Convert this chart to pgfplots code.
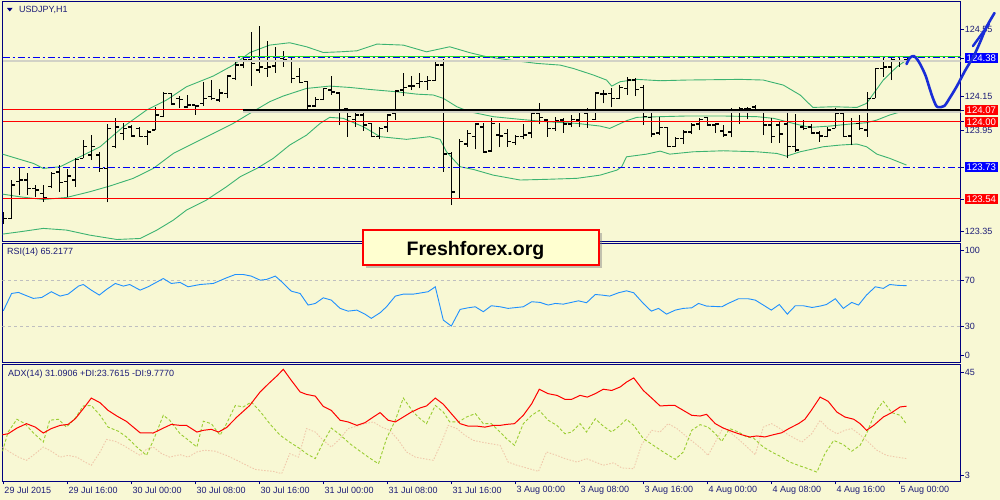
\documentclass[border=0pt]{standalone}
\usepackage{pgfplots}
\pgfplotsset{compat=1.18}
\usepackage{pgfplotstable}
\usepackage{fontspec}
\setmainfont{Liberation Sans}
\usetikzlibrary{shadows}

\definecolor{chartbg}{RGB}{248,248,212}
\definecolor{frame}{RGB}{0,0,128}
\definecolor{labtext}{RGB}{28,28,120}
\definecolor{band}{RGB}{60,179,113}
\definecolor{lvlgreen}{RGB}{40,220,40}
\definecolor{lvlblue}{RGB}{0,0,245}
\definecolor{shadowgray}{RGB}{210,210,198}
\definecolor{rsiblue}{RGB}{30,144,255}
\definecolor{diplus}{RGB}{154,205,50}
\definecolor{diminus}{RGB}{240,200,170}
\definecolor{boxfill}{RGB}{255,255,208}
\definecolor{penblue}{RGB}{25,45,215}

\newcommand{\redlab}[1]{{\fboxsep=1.8pt\colorbox{red}{\textcolor{white}{\fontsize{9.6}{10}\selectfont#1}}}}
\newcommand{\bluelab}[1]{{\fboxsep=1.8pt\colorbox{blue}{\textcolor{white}{\fontsize{9.6}{10}\selectfont#1}}}}

% USDJPY H1 bars: index, open, high, low, close
\pgfplotstableread{
i O H L C
0 123.405 123.464 123.391 123.424
1 123.424 123.653 123.420 123.623
2 123.643 123.722 123.563 123.653
3 123.653 123.692 123.563 123.603
4 123.603 123.623 123.553 123.593
5 123.573 123.623 123.524 123.549
6 123.613 123.702 123.603 123.692
7 123.702 123.742 123.583 123.637
8 123.643 123.716 123.553 123.676
9 123.653 123.782 123.613 123.776
10 123.782 123.891 123.782 123.851
11 123.801 123.920 123.772 123.851
12 123.801 123.821 123.702 123.722
13 123.722 123.986 123.520 123.960
14 123.851 124.020 123.841 123.970
15 123.930 123.990 123.891 123.960
16 123.970 123.980 123.911 123.915
17 123.960 123.970 123.911 123.911
18 123.911 123.950 123.861 123.940
19 123.950 124.089 123.950 124.040
20 124.030 124.178 124.026 124.168
21 124.168 124.172 124.099 124.105
22 124.139 124.153 124.079 124.133
23 124.089 124.159 124.079 124.099
24 124.099 124.099 124.040 124.093
25 124.109 124.238 124.093 124.139
26 124.149 124.248 124.129 124.139
27 124.129 124.192 124.119 124.172
28 124.168 124.278 124.139 124.272
29 124.258 124.357 124.248 124.337
30 124.337 124.377 124.317 124.367
31 124.371 124.536 124.212 124.347
32 124.307 124.569 124.292 124.327
33 124.317 124.480 124.268 124.327
34 124.333 124.446 124.292 124.387
35 124.377 124.422 124.327 124.367
36 124.383 124.383 124.228 124.258
37 124.268 124.317 124.228 124.232
38 124.238 124.244 124.073 124.093
39 124.093 124.145 124.089 124.133
40 124.133 124.198 124.129 124.198
41 124.188 124.272 124.159 124.178
42 124.172 124.178 123.980 124.069
43 124.079 124.079 123.911 124.030
44 124.014 124.053 123.970 124.040
45 124.040 124.053 123.946 123.980
46 123.990 123.994 123.907 123.911
47 123.911 123.970 123.895 123.960
48 123.970 124.045 123.936 124.040
49 124.049 124.188 124.010 124.184
50 124.188 124.292 124.153 124.204
51 124.212 124.272 124.188 124.212
52 124.228 124.288 124.198 124.238
53 124.238 124.272 124.188 124.244
54 124.244 124.363 124.244 124.337
55 124.337 124.371 123.702 123.807
56 123.811 123.821 123.504 123.583
57 123.543 123.895 123.543 123.881
58 123.867 123.950 123.851 123.930
59 123.911 123.994 123.835 123.986
60 123.970 123.994 123.815 123.821
61 123.827 124.020 123.821 123.990
62 123.920 123.994 123.847 123.915
63 123.930 123.954 123.851 123.881
64 123.875 123.920 123.861 123.911
65 123.911 123.986 123.895 123.920
66 123.934 124.059 123.901 124.049
67 124.049 124.109 123.986 124.026
68 124.010 124.014 123.911 123.960
69 123.960 124.026 123.946 124.006
70 124.010 124.020 123.934 123.986
71 123.986 124.040 123.966 124.014
72 124.010 124.069 123.970 124.059
73 124.053 124.079 123.964 124.069
74 124.014 124.178 124.010 124.172
75 124.165 124.188 124.109 124.165
76 124.168 124.198 124.085 124.139
77 124.139 124.218 124.133 124.204
78 124.198 124.264 124.159 124.248
79 124.248 124.258 124.153 124.192
80 124.204 124.218 123.980 124.030
81 124.026 124.049 123.907 123.926
82 123.934 124.030 123.920 123.966
83 123.966 123.970 123.847 123.851
84 123.851 123.911 123.851 123.901
85 123.901 123.950 123.867 123.940
86 123.940 123.994 123.926 123.980
87 123.986 124.020 123.950 124.014
88 124.026 124.030 123.974 123.980
89 123.980 123.994 123.934 123.986
90 123.946 123.980 123.911 123.920
91 123.940 124.079 123.907 124.059
92 124.059 124.085 123.986 124.079
93 124.079 124.085 124.014 124.079
94 124.089 124.099 124.053 124.059
95 124.059 124.059 123.920 123.980
96 123.980 124.020 123.875 123.911
97 123.980 124.006 123.875 123.926
98 123.986 124.053 123.782 123.851
99 123.851 124.045 123.821 123.831
100 123.970 124.010 123.950 123.960
101 123.970 123.986 123.926 123.934
102 123.934 123.946 123.881 123.915
103 123.911 123.966 123.907 123.950
104 123.960 124.079 123.960 124.049
105 124.049 124.059 123.907 123.911
106 123.915 124.020 123.861 124.000
107 123.990 124.040 123.950 123.960
108 123.950 124.178 123.911 124.139
109 124.139 124.317 124.139 124.317
110 124.317 124.391 124.268 124.327
111 124.327 124.377 124.248 124.371
112 124.363 124.387 124.327 124.357
113 124.367 124.387 124.343 124.383
}\ohlc

\pgfplotsset{
  mt4/.style={
    scale only axis, width=958.2pt,
    xmin=-0.1, xmax=119.675,
    axis line style={frame, line width=0.8pt},
    axis background/.style={fill=chartbg},
    tick style={frame, line width=0.6pt},
    major tick length=3pt,
    tick align=outside,
    ytick pos=right, yticklabel pos=right,
    xtick=\empty,
    ticklabel style={font=\fontsize{9}{10}\selectfont, text=labtext},
    yticklabel style={anchor=west, inner sep=1pt},
    /pgf/number format/assume math mode=true,
  },
}

\begin{document}
\begin{tikzpicture}
\useasboundingbox (0,0) rectangle (1000pt,-500pt);
\fill[chartbg] (0,0) rectangle (1000pt,-500pt);

% ---- price panel ----
\begin{axis}[mt4, at={(2.5pt,-1.7pt)}, anchor=north west, height=239.3pt,
  ymin=123.290, ymax=124.7143,
  ytick={123.35,123.95,124.15,124.55},
  yticklabel style={/pgf/number format/fixed, /pgf/number format/fixed zerofill, /pgf/number format/precision=2},
  extra y ticks={124.38,124.07,124.00,123.73,123.54},
  extra y tick labels={\bluelab{124.38},\redlab{124.07},\redlab{124.00},\bluelab{123.73},\redlab{123.54}},
]
% Bollinger bands (20)
\addplot[band, line width=0.9pt] coordinates {(-0.1,123.807) (3.75,123.752) (5,123.722) (7.1,123.732) (9.2,123.782) (12.1,123.851) (15,123.970) (17.9,124.069) (20.4,124.129) (22.9,124.208) (26.25,124.272) (28.75,124.337) (30.8,124.411) (33.3,124.456) (35.8,124.470) (37.9,124.446) (40,124.412) (42.1,124.416) (44.2,124.422) (46.7,124.462) (50,124.456) (52.9,124.416) (55.8,124.446) (58.3,124.411) (60.4,124.387) (63.3,124.367) (66.7,124.347) (69.6,124.337) (71.25,124.317) (73.75,124.278) (75.4,124.248) (76.05,124.212) (77.1,124.238) (79.2,124.252) (82.1,124.244) (85.4,124.248) (92.1,124.252) (95,124.248) (97.5,124.218) (99.6,124.159) (101.2,124.085) (103.75,124.089) (106.7,124.085) (107.9,124.109) (110,124.248) (111.7,124.327) (112.9,124.367)};
\addplot[band, line width=0.9pt] coordinates {(-0.1,123.569) (2.1,123.553) (5,123.537) (7.9,123.549) (10.8,123.583) (13.3,123.617) (16.25,123.663) (18.75,123.722) (21.25,123.811) (23.75,123.871) (26.25,123.930) (28.75,123.990) (30.8,124.049) (33.3,124.119) (35,124.153) (37.9,124.198) (40.8,124.212) (43.3,124.204) (45.8,124.192) (49.2,124.178) (51.7,124.164) (53.75,124.159) (55,124.139) (56.7,124.089) (58.3,124.059) (61.25,124.030) (64.6,124.014) (67.9,124.000) (71.7,123.990) (74.6,123.974) (75.8,123.960) (77.9,124.006) (79.2,124.026) (82.1,124.030) (85.4,124.034) (90,124.034) (94.2,124.030) (96.3,124.020) (98.75,123.990) (100.8,123.966) (103.3,123.974) (105.8,123.986) (107.9,123.994) (109.2,124.010) (110.8,124.040) (112.9,124.069)};
\addplot[band, line width=0.9pt] coordinates {(-0.1,123.331) (2.1,123.345) (5,123.365) (7.9,123.355) (10.8,123.325) (14.2,123.299) (17.1,123.305) (19.2,123.355) (21.25,123.414) (22.9,123.474) (25.4,123.534) (27.9,123.613) (29.6,123.672) (31.7,123.722) (33.75,123.782) (35.8,123.861) (37.9,123.920) (39.6,123.990) (40.8,124.026) (42.5,124.020) (45,123.970) (47.1,123.911) (50.4,123.895) (53.3,123.911) (54.6,123.895) (55.4,123.821) (57.1,123.732) (58.75,123.716) (61.25,123.682) (64.6,123.653) (67.9,123.657) (71.7,123.663) (74.6,123.682) (76.7,123.712) (77.3,123.732) (77.9,123.791) (80.4,123.807) (82.1,123.825) (83.3,123.807) (86.25,123.821) (90,123.827) (94.2,123.821) (96.7,123.811) (97.9,123.795) (99.6,123.821) (102.5,123.851) (104.6,123.861) (106.7,123.867) (107.9,123.851) (109.2,123.807) (110.8,123.782) (112.9,123.742)};
% OHLC bars
\addplot[draw=none, mark=none, error bars/.cd, error mark=none, y dir=plus, y explicit, error bar style={draw=black, solid, line width=1.2pt}]
  table[x=i, y=L, y error expr=\thisrow{H}-\thisrow{L}] {\ohlc};
\addplot[draw=none, mark=none, error bars/.cd, error mark=none, x dir=minus, x fixed=0.4, error bar style={draw=black, solid, line width=1.5pt}]
  table[x=i, y=O] {\ohlc};
\addplot[draw=none, mark=none, error bars/.cd, error mark=none, x dir=plus, x fixed=0.4, error bar style={draw=black, solid, line width=1.5pt}]
  table[x=i, y=C] {\ohlc};
% levels
\addplot[shadowgray, line width=2pt] coordinates {(-0.1,124.361) (119.675,124.361)};
\addplot[lvlblue, line width=1pt, dash pattern=on 7pt off 3pt on 2pt off 3pt] coordinates {(-0.1,124.38) (119.675,124.38)};
\addplot[lvlgreen, line width=1.3pt] coordinates {(29.3,124.387) (119.675,124.387)};
\addplot[red, line width=1pt] coordinates {(-0.1,124.07) (119.675,124.07)};
\addplot[red, line width=1pt] coordinates {(-0.1,124.00) (119.675,124.00)};
\addplot[lvlblue, line width=1pt, dash pattern=on 7pt off 3pt on 2pt off 3pt] coordinates {(-0.1,123.73) (119.675,123.73)};
\addplot[red, line width=1pt] coordinates {(-0.1,123.54) (119.675,123.54)};
\addplot[shadowgray, line width=2.6pt] coordinates {(29.96,124.057) (119.675,124.057)};
\addplot[black, line width=2.6pt] coordinates {(29.96,124.069) (119.675,124.069)};
\end{axis}

% ---- RSI panel ----
\begin{axis}[mt4, at={(2.5pt,-243.5pt)}, anchor=north west, height=119.2pt,
  ymin=-1.9, ymax=101.9,
  ytick={4.5,30,70,96.2}, yticklabels={0,30,70,100},
]
\addplot[black!25, line width=0.7pt, dash pattern=on 3pt off 3pt] coordinates {(-0.1,70) (119.675,70)};
\addplot[black!25, line width=0.7pt, dash pattern=on 3pt off 3pt] coordinates {(-0.1,30) (119.675,30)};
\addplot[rsiblue, line width=0.9pt] coordinates {(0,43.3) (1.04,58.4) (1.9,59.3) (2.7,57.0) (3.75,54.1) (4.8,54.9) (6.0,59.9) (7.1,56.1) (8.1,57.8) (9.4,64.8) (10,66.2) (11.0,61.3) (12,57.0) (12.9,61.9) (14.0,67.1) (15,64.8) (15.8,66.2) (17.1,61.3) (18.1,64.2) (20,71.4) (21,67.1) (22.1,68.0) (23.1,64.2) (24.6,66.2) (26.25,67.1) (27.9,72.0) (29,74.9) (30,74.9) (31,73.5) (32.1,70.0) (32.9,70.6) (34.0,73.5) (34.8,68.6) (36.0,60.4) (37.1,58.4) (38.1,48.3) (39.0,49.7) (40,54.6) (41.0,52.6) (42.1,45.4) (43.1,43.0) (44.2,43.9) (45.2,40.4) (46.0,36.7) (47.1,41.6) (47.9,46.8) (49.0,56.1) (50,57.8) (51.25,57.8) (53.1,59.9) (54.0,64.2) (55,35.2) (56.0,30.0) (57.1,44.5) (58.1,45.9) (59.0,46.8) (60,42.5) (61.0,47.7) (62.1,46.8) (63.1,45.4) (65.0,46.8) (66.05,51.2) (67.1,50.6) (68.1,48.3) (69.0,49.7) (70,49.1) (70.8,50.3) (71.9,52.0) (72.9,50.3) (74.0,57.5) (74.8,57.0) (75.8,56.1) (76.9,59.0) (77.9,60.7) (78.8,59.0) (80.0,49.7) (81.0,43.0) (81.9,45.4) (82.9,40.4) (84.0,43.9) (85.0,45.4) (86.05,45.9) (86.9,49.7) (87.9,47.4) (89.8,46.8) (90.8,50.3) (91.9,53.8) (93.1,53.8) (94.0,52.6) (95.0,48.3) (96.0,43.9) (97.0,48.8) (98.0,40.4) (99.0,47.7) (100,47.7) (101.1,46.2) (102.1,47.4) (102.9,48.8) (104,53.8) (105.0,45.4) (106.05,50.6) (106.9,48.3) (107.9,57.0) (109,64.2) (110,62.8) (110.8,66.2) (111.9,65.4) (112.9,65.2)};
\end{axis}

% ---- ADX panel ----
\begin{axis}[mt4, at={(2.5pt,-364.7pt)}, anchor=north west, height=116.6pt,
  ymin=0.57, ymax=47.97,
  ytick={3,45},
  xtick={0,8,...,112}, xtick pos=left, xticklabel pos=left,
  xticklabels={29 Jul 2015,29 Jul 16:00,30 Jul 00:00,30 Jul 08:00,30 Jul 16:00,31 Jul 00:00,31 Jul 08:00,31 Jul 16:00,3 Aug 00:00,3 Aug 08:00,3 Aug 16:00,4 Aug 00:00,4 Aug 08:00,4 Aug 16:00,5 Aug 00:00},
  xticklabel style={anchor=north west, inner sep=0pt, xshift=1pt, yshift=-2pt},
]
\addplot[diminus, line width=0.9pt, dash pattern=on 1.5pt off 1.5pt] coordinates {(-0.1,14.5) (0.8,12.5) (1.9,10.4) (2.9,9.1) (4.0,11.8) (5,14.5) (6.0,12.8) (7.1,10.4) (8.1,11.1) (9.2,10.4) (10.2,8.4) (11.0,7.1) (12.1,12.5) (12.9,17.6) (14.0,16.8) (15,15.2) (16.0,13.2) (17.1,11.1) (17.9,13.6) (18.75,14.5) (19.8,11.8) (20.8,10.4) (22.1,11.4) (23.1,10.4) (24.2,12.5) (25.2,13.2) (26.5,12.8) (27.9,11.1) (29.2,9.1) (30.4,7.1) (31.5,5.4) (32.5,5.0) (33.75,4.6) (34.8,3.7) (35.8,11.8) (36.9,10.4) (37.9,22.0) (39.0,20.6) (40,17.2) (41.0,14.5) (42.1,17.9) (43.1,22.0) (44.2,23.0) (45.2,24.0) (46.25,24.7) (47.3,22.6) (48.3,21.3) (49.4,17.2) (50.4,12.5) (51.5,10.4) (52.5,9.8) (53.75,9.1) (54.8,16.5) (55.6,23.3) (56.7,22.0) (57.7,19.3) (58.75,17.2) (59.8,16.5) (60.8,15.9) (62.1,15.2) (63.1,8.4) (64.2,7.1) (65.4,6.0) (66.9,4.6) (67.9,12.5) (69.2,11.1) (70.2,9.8) (71.7,8.4) (72.9,9.8) (74.0,8.4) (75.0,7.1) (76.3,8.1) (77.3,6.0) (78.8,5.7) (79.8,15.5) (81.05,21.3) (82.1,20.6) (83.1,24.0) (84.2,22.0) (85.2,19.3) (86.25,16.5) (87.3,13.8) (88.1,11.1) (89.0,16.5) (90.0,22.6) (91.3,19.3) (92.5,15.9) (94.0,11.4) (95.0,22.6) (96.05,24.0) (97.1,22.0) (98.1,19.5) (99.8,16.5) (101.05,19.9) (102.1,25.4) (103.1,22.0) (104.2,19.9) (105.2,21.3) (106.05,22.0) (107.1,19.5) (107.9,17.2) (109.2,13.2) (110.4,11.1) (111.7,10.4) (112.9,9.8)};
\addplot[diplus, line width=0.9pt, dash pattern=on 3pt off 2pt] coordinates {(-0.1,12.8) (0.6,20.6) (1.7,25.8) (2.7,24.0) (3.75,20.3) (5.0,16.5) (5.8,25.4) (6.9,25.8) (7.9,22.6) (9.0,26.3) (10,31.2) (11.0,31.4) (12.1,27.4) (13.1,22.6) (14.4,20.9) (15.4,18.6) (16.7,14.5) (17.9,11.1) (18.75,17.2) (20,27.4) (20.8,25.4) (22.1,19.9) (22.9,17.9) (24.2,14.5) (25,25.0) (26.0,24.0) (27.1,19.3) (27.9,24.0) (29.0,31.4) (30,30.8) (31.0,32.8) (32.1,29.0) (33.3,24.0) (34.6,19.3) (35.8,16.5) (37.1,13.8) (37.9,11.8) (39.0,9.8) (40,16.5) (41.0,22.2) (42.1,19.5) (43.3,15.9) (44.6,12.8) (45.8,10.0) (46.9,7.7) (47.9,17.9) (49.0,25.4) (50,34.4) (51.25,28.7) (52.1,26.0) (52.9,24.0) (54.0,31.4) (55,28.7) (55.8,24.7) (56.9,24.7) (57.9,26.7) (59.0,28.1) (60,24.0) (61.0,24.0) (62.1,20.6) (62.9,17.9) (63.9,15.2) (65.0,24.0) (66.05,27.4) (67.0,29.4) (68.1,25.4) (69.2,23.3) (70.2,19.9) (71.05,20.6) (72.1,24.0) (72.9,20.6) (74.0,26.0) (75.0,23.0) (76.05,20.6) (77.1,23.3) (77.9,25.8) (78.8,23.3) (80.0,17.9) (81.25,15.2) (82.5,12.5) (84.0,9.5) (85.0,12.5) (86.05,21.3) (87.1,23.6) (88.1,22.6) (89.0,19.9) (89.8,16.8) (90.8,22.0) (91.9,20.6) (92.9,18.6) (93.75,18.2) (95.0,14.5) (96.05,12.5) (97.3,10.4) (98.3,8.4) (99.6,6.8) (100.6,5.7) (101.7,4.3) (102.7,11.8) (103.8,17.2) (105.0,15.5) (106.05,12.8) (107.1,15.2) (107.9,19.9) (109.0,28.7) (110,33.1) (111.05,28.5) (112.1,27.4) (112.9,23.8)};
\addplot[red, line width=1pt] coordinates {(-0.1,19.5) (0.6,19.9) (1.7,22.2) (2.9,24.0) (4.0,22.6) (5.0,20.2) (6.0,22.0) (7.1,23.3) (8.1,23.7) (9.0,26.0) (10,30.1) (11.0,34.4) (12.1,32.5) (13.1,29.4) (14.2,27.1) (15.4,24.9) (16.25,22.6) (17.1,20.3) (18.75,20.2) (20,22.2) (21.0,23.7) (22.1,23.3) (22.9,23.3) (24.2,20.6) (25,21.3) (26.0,21.7) (26.9,20.6) (27.9,22.4) (29.2,26.7) (30.8,31.4) (32.1,36.9) (33.3,40.7) (34.2,43.4) (35,46.1) (36.0,41.6) (37.1,36.9) (37.9,35.9) (39.0,35.2) (40,31.0) (41.0,29.4) (42.1,25.4) (43.1,24.7) (44.2,23.3) (45.2,24.4) (46.25,26.7) (47.1,28.5) (48.1,25.4) (49.0,24.7) (50,26.7) (51.0,28.7) (52.1,30.4) (52.9,31.2) (54.0,34.4) (55,31.9) (56.0,28.1) (57.1,24.0) (58.1,23.0) (59.2,23.0) (60.2,22.6) (61.25,23.3) (62.1,23.3) (62.9,23.7) (63.9,24.0) (65.0,27.4) (66.05,32.1) (67.0,38.0) (68.1,36.2) (69.2,35.5) (70.2,33.9) (71.05,33.9) (72.1,35.5) (73.0,34.8) (74.0,36.2) (75.0,38.0) (76.05,37.5) (77.1,38.9) (77.9,40.9) (78.8,42.6) (80.0,37.5) (81.05,34.4) (82.1,31.2) (83.1,31.4) (83.95,31.4) (85.0,29.4) (86.05,27.4) (87.1,27.1) (87.9,27.8) (89.0,24.0) (90.0,22.2) (91.3,20.6) (92.3,19.5) (93.3,18.6) (94.2,19.0) (95.2,18.6) (96.25,19.5) (97.3,20.3) (98.3,22.2) (99.4,24.0) (100.2,25.8) (101.0,29.4) (102.1,34.8) (103.1,33.1) (104.2,28.7) (105.2,26.7) (106.3,25.8) (107.1,24.0) (107.9,21.3) (108.8,23.3) (110,26.7) (111.05,28.5) (112.1,30.8) (112.9,31.1)};
\end{axis}

% ---- hand-drawn forecast stroke over the price panel ----
\begin{axis}[scale only axis, width=958.2pt, height=239.3pt, at={(2.5pt,-1.7pt)}, anchor=north west,
  xmin=-0.1, xmax=119.675, ymin=123.290, ymax=124.7143, axis lines=none, clip=false]
\addplot[penblue, line width=2.6pt, smooth, line cap=round, line join=round] coordinates {(112.9,124.343) (113.3,124.379) (113.8,124.391) (114.3,124.367) (114.8,124.325) (115.3,124.272) (115.7,124.212) (116.1,124.153) (116.5,124.105) (116.8,124.087) (117.6,124.093) (118.3,124.141) (119.2,124.212) (120.2,124.302) (121.3,124.391) (122.1,124.474) (122.9,124.564) (123.9,124.647)};
\addplot[penblue, line width=2.4pt, line cap=round] coordinates {(121.2,124.450) (123.2,124.581)};
\end{axis}

% ---- panel captions ----
\fill[frame] (7pt,-8pt) -- (12.5pt,-8pt) -- (9.75pt,-11.5pt) -- cycle;
\node[anchor=west, inner sep=0pt, text=labtext, font=\fontsize{9}{10}\selectfont] at (19pt,-10pt) {USDJPY,H1};
\node[anchor=west, inner sep=0pt, text=labtext, font=\fontsize{9}{10}\selectfont] at (7pt,-252.5pt) {RSI(14) 65.2177};
\node[anchor=west, inner sep=0pt, text=labtext, font=\fontsize{9}{10}\selectfont] at (8pt,-374pt) {ADX(14) 31.0906 +DI:23.7615 -DI:9.7770};

% ---- watermark ----
\node[draw=red, line width=2pt, fill=boxfill, minimum width=235.7pt, minimum height=35.3pt, inner sep=0pt,
  drop shadow={shadow xshift=3pt, shadow yshift=-3pt, fill=black!50, opacity=0.45}] at (481.2pt,-247.4pt) {};
\node[anchor=base, inner sep=0pt, font=\fontsize{19.5}{22}\bfseries\selectfont] at (475.5pt,-255.3pt) {Freshforex.org};
\end{tikzpicture}
\end{document}
